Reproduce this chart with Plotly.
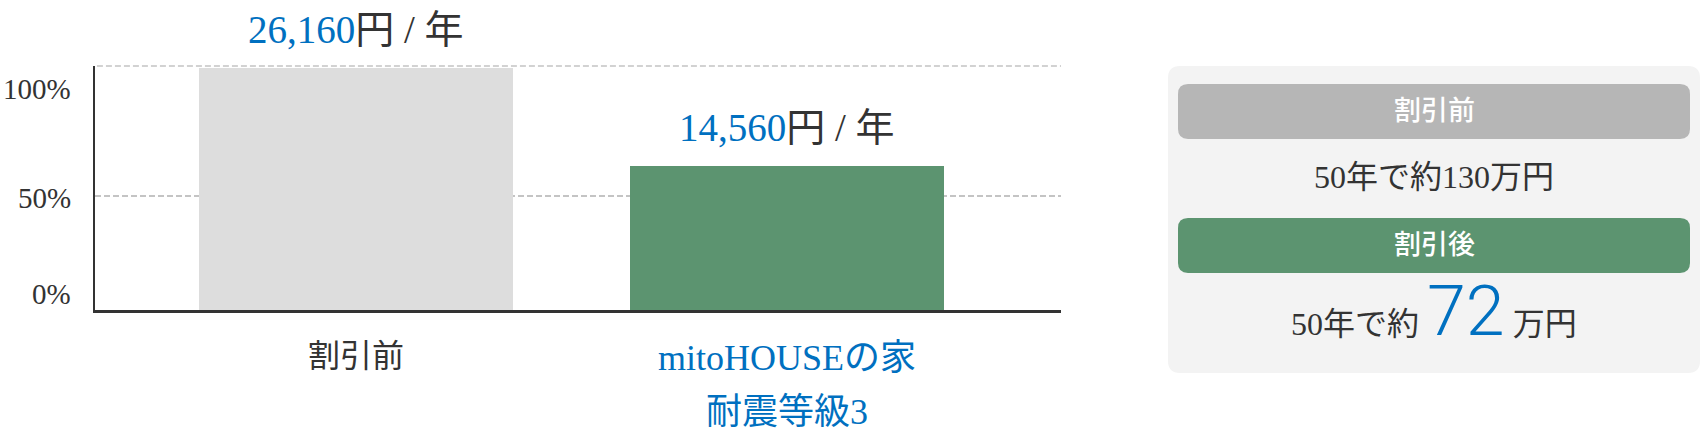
import plotly.graph_objects as go

# ---------------- data ----------------
categories = ["割引前", "mitoHOUSEの家<br>耐震等級3"]
category_colors = ["#333333", "#0070C0"]
bar_heights = [106.1, 63.1]          # bar heights (% scale)
annual_cost = [26160, 14560]         # 円 / 年
tick_values = [0, 50, 100]
tick_labels = ["0%", "50%", "100%"]
panel_headers = ["割引前", "割引後"]
total_50y = [130, 72]                # 万円 over 50 years

# ---------------- geometry / style ----------------
W, H = 1702, 440
ML, MR, MT, MB = 95, 641, 66, 130
PW, PH = W - ML - MR, H - MT - MB
YMAX = 107.0
BLUE = "#0070C0"
DARK = "#333333"
GREEN = "#5C9470"
BAR_GRAY = "#DDDDDD"
PILL_GRAY = "#B6B6B6"
PANEL_BG = "#F3F3F3"
GRID = "#C4C4C4"
SERIF = "Liberation Serif, Noto Sans CJK JP, serif"
TICK_SHIFT = {0: 16, 50: -2, 100: -7}


def px(x):
    return (x - ML) / PW


def py(y):
    return (H - MB - y) / PH


def rrect(x0, y0, x1, y1, r):
    pts = [
        ("M", [(x0 + r, y0)]),
        ("L", [(x1 - r, y0)]), ("Q", [(x1, y0), (x1, y0 + r)]),
        ("L", [(x1, y1 - r)]), ("Q", [(x1, y1), (x1 - r, y1)]),
        ("L", [(x0 + r, y1)]), ("Q", [(x0, y1), (x0, y1 - r)]),
        ("L", [(x0, y0 + r)]), ("Q", [(x0, y0), (x0 + r, y0)]),
    ]
    s = ""
    for cmd, coords in pts:
        s += cmd + " " + " ".join(f"{px(a):.5f},{py(b):.5f}" for a, b in coords) + " "
    return s + "Z"


fig = go.Figure()
fig.add_trace(go.Bar(
    x=categories,
    y=bar_heights,
    marker=dict(color=[BAR_GRAY, GREEN], line=dict(width=0)),
    width=0.729,
    hoverinfo="skip",
))

annotations = []
# value labels above bars
for cat, h, cost in zip(categories, bar_heights, annual_cost):
    annotations.append(dict(
        x=cat, y=h, xref="x", yref="y", yanchor="middle", yshift=39,
        text=f"<span style='color:{BLUE}'>{cost:,}</span>円 / 年",
        showarrow=False, font=dict(family=SERIF, size=39, color=DARK),
    ))
# y tick labels
for v, lab in zip(tick_values, tick_labels):
    annotations.append(dict(
        x=px(73), y=v, xref="paper", yref="y", xanchor="right", yanchor="middle",
        yshift=TICK_SHIFT[v], text=lab, showarrow=False,
        font=dict(family=SERIF, size=29, color=DARK),
    ))
# category labels
for cat, col in zip(categories, category_colors):
    lines = cat.split("<br>")
    size = 32 if len(lines) == 1 else 36
    for i, line in enumerate(lines):
        annotations.append(dict(
            x=cat, y=py(336 + 54 * i), xref="x", yref="paper", xanchor="center", yanchor="top",
            text=line, showarrow=False, font=dict(family=SERIF, size=size, color=col),
        ))

# right summary panel
CX = 1434
shapes = [
    # top dashed border line of the plot area
    dict(type="line", xref="paper", yref="paper", x0=0.002, x1=1, y0=1, y1=1,
         line=dict(color=GRID, width=1.5, dash="6px,3px"), layer="below"),
    dict(type="path", xref="paper", yref="paper", path=rrect(1168, 66, 1700, 373, 12),
         fillcolor=PANEL_BG, line=dict(width=0)),
    dict(type="path", xref="paper", yref="paper", path=rrect(1178, 84, 1690, 139, 10),
         fillcolor=PILL_GRAY, line=dict(width=0)),
    dict(type="path", xref="paper", yref="paper", path=rrect(1178, 218, 1690, 273, 10),
         fillcolor=GREEN, line=dict(width=0)),
]
header_y = [111, 245]
for hdr, yy in zip(panel_headers, header_y):
    annotations.append(dict(
        x=px(CX), y=py(yy), xref="paper", yref="paper", xanchor="center", yanchor="middle",
        text=hdr, showarrow=False, font=dict(family=SERIF, size=27, color="white", weight=500),
    ))
annotations.append(dict(
    x=px(CX), y=py(177), xref="paper", yref="paper", xanchor="center", yanchor="middle",
    text=f"50年で約{total_50y[0]}万円", showarrow=False,
    font=dict(family=SERIF, size=32, color=DARK),
))
annotations.append(dict(
    x=px(CX), y=py(311), xref="paper", yref="paper", xanchor="center", yanchor="middle",
    text=(f"50年で約 <span style='font-size:70px;color:{BLUE};font-family:Roboto;font-weight:300'>"
          f"{total_50y[1]}</span> 万円"),
    showarrow=False, font=dict(family=SERIF, size=32, color=DARK),
))

fig.update_layout(
    width=W, height=H,
    margin=dict(l=ML, r=MR, t=MT, b=MB, pad=0),
    paper_bgcolor="white", plot_bgcolor="white",
    showlegend=False,
    bargap=0,
    xaxis=dict(
        range=[-0.607, 1.636], showticklabels=False, ticks="", showgrid=False,
        showline=True, linecolor=DARK, linewidth=2.5, zeroline=False, fixedrange=True,
    ),
    yaxis=dict(
        range=[0, YMAX], tickvals=[50], showticklabels=False, ticks="",
        showgrid=True, gridcolor=GRID, gridwidth=1.5, griddash="6px,3px",
        showline=True, linecolor=DARK, linewidth=2, zeroline=False, fixedrange=True,
    ),
    annotations=annotations,
    shapes=shapes,
)

fig.write_html("out.html", config={"displayModeBar": False},
               post_script="document.body.style.margin='0px';")
